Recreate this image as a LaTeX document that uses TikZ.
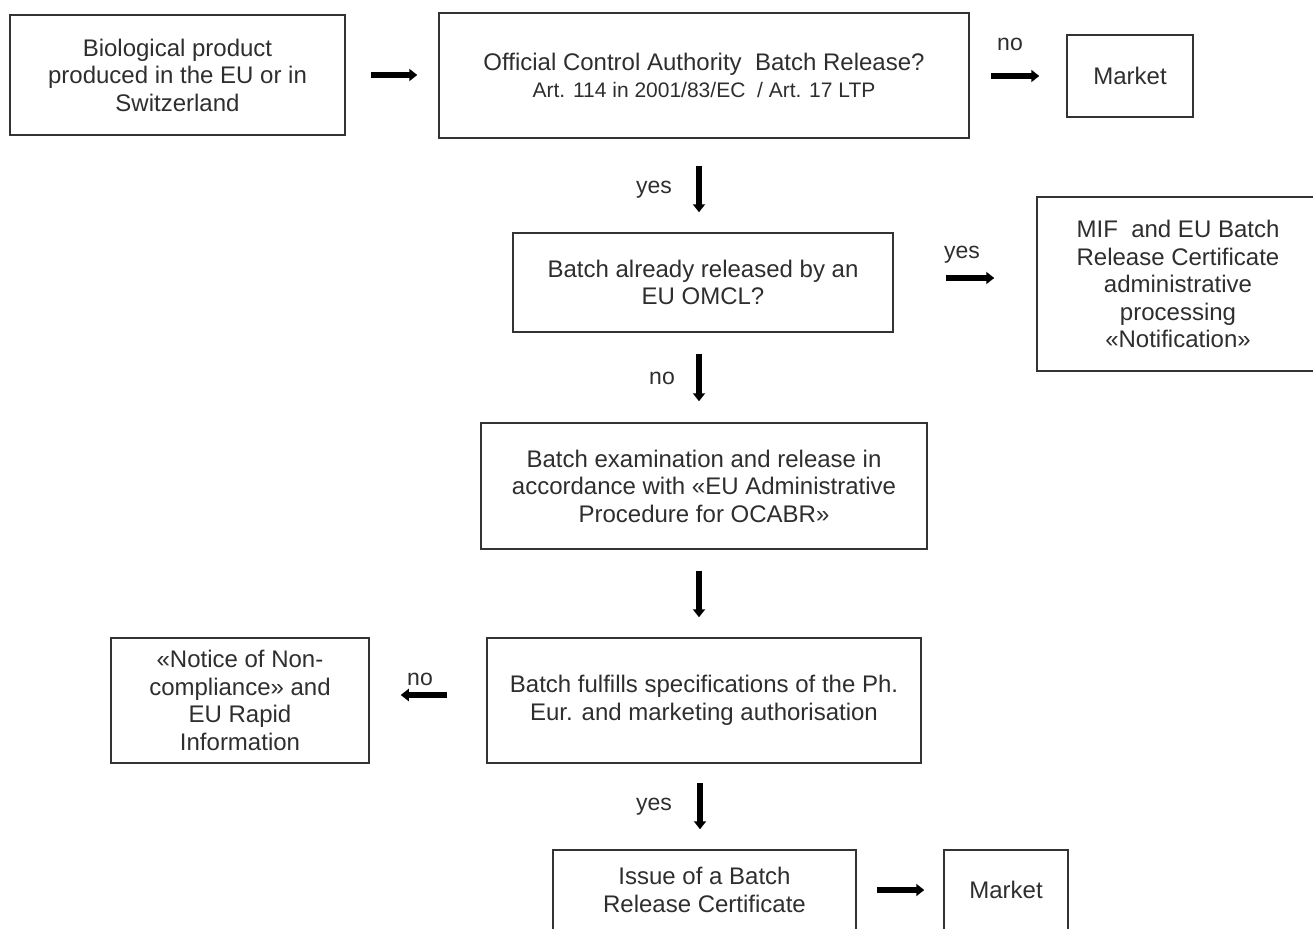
\documentclass[tikz,border=0pt]{standalone}
\usepackage{fontspec}
\setmainfont{Liberation Sans}
\usetikzlibrary{arrows.meta}
\definecolor{txt}{HTML}{2E2E2E}
\definecolor{frame}{HTML}{333333}
\tikzset{
  box/.style={draw=frame, line width=1.5pt, inner sep=0pt, align=center, text=txt,
    font=\fontsize{24}{27.5}\selectfont},
  arr/.style={line width=5.5pt, draw=black, -{Triangle[length=8pt,width=12pt]}},
  lbl/.style={text=txt, inner sep=0pt, font=\fontsize{23}{27}\selectfont}
}
\begin{document}
\begin{tikzpicture}[x=1pt,y=-1pt]
\useasboundingbox (0,0) rectangle (1313,928);
\node[box, minimum width=335pt, minimum height=120pt] (b1) at (177.5,75) {Biological product\\produced in the EU or in\\Switzerland};
\node[box, minimum width=530pt, minimum height=125pt] (b2) at (704,75.5) {Official Control Authority~ Batch Release?\\[-1pt]{\fontsize{21}{24}\selectfont Art. 114 in 2001/83/EC~ / Art. 17 LTP}};
\node[box, minimum width=126pt, minimum height=82pt] (m1) at (1130,76) {Market};
\node[box, minimum width=380pt, minimum height=99pt] (b3) at (703,282.5) {Batch already released by an\\EU OMCL?};
\node[box, minimum width=282pt, minimum height=174pt] (mif) at (1178,284) {MIF~ and EU Batch\\Release Certificate\\administrative\\processing\\«Notification»};
\node[box, minimum width=446pt, minimum height=126pt] (b4) at (704,486) {Batch examination and release in\\accordance with «EU Administrative\\Procedure for OCABR»};
\node[box, minimum width=434pt, minimum height=125pt] (b5) at (704,700.5) {Batch fulfills specifications of the Ph.\\Eur. and marketing authorisation};
\node[box, minimum width=258pt, minimum height=125pt] (nc) at (240,700.5) {«Notice of Non-\\compliance» and\\EU Rapid\\Information};
\node[box, minimum width=303pt, minimum height=80pt] (iss) at (704.5,890) {Issue of a Batch\\Release Certificate};
\node[box, minimum width=124pt, minimum height=80pt] (m2) at (1006,890) {Market};

\draw[arr, shorten <=25pt, shorten >=21pt] (b1.east) -- (b1.east -| b2.west);
\draw[arr, shorten <=21pt, shorten >=27pt] ([yshift=-0.5pt]b2.east) -- ([yshift=-0.5pt]b2.east -| m1.west);
\draw[arr, shorten <=27pt, shorten >=20pt] ([xshift=-5pt]b2.south) -- ([xshift=-5pt]b2.south |- b3.north);
\draw[arr, shorten <=52pt, shorten >=42pt] ([yshift=4.5pt]b3.east) -- ([yshift=4.5pt]b3.east -| mif.west);
\draw[arr, shorten <=21pt, shorten >=21pt] ([xshift=-4pt]b3.south) -- ([xshift=-4pt]b3.south |- b4.north);
\draw[arr, shorten <=21pt, shorten >=20pt] ([xshift=-5pt]b4.south) -- ([xshift=-5pt]b4.south |- b5.north);
\draw[arr, shorten <=39pt, shorten >=31pt] ([yshift=5.5pt]b5.west) -- ([yshift=5.5pt]b5.west -| nc.east);
\draw[arr, shorten <=19pt, shorten >=20pt] ([xshift=-4pt]b5.south) -- ([xshift=-4pt]b5.south |- iss.north);
\draw[arr, shorten <=20pt, shorten >=19pt] (iss.east) -- (iss.east -| m2.west);

\node[lbl] (l1) at (1010,44) {no};
\node[lbl] (l2) at (654,190) {yes};
\node[lbl] (l3) at (962,255) {yes};
\node[lbl] (l4) at (662,378) {no};
\node[lbl] (l5) at (420,679) {no};
\node[lbl] (l6) at (654,807) {yes};
\end{tikzpicture}
\end{document}
